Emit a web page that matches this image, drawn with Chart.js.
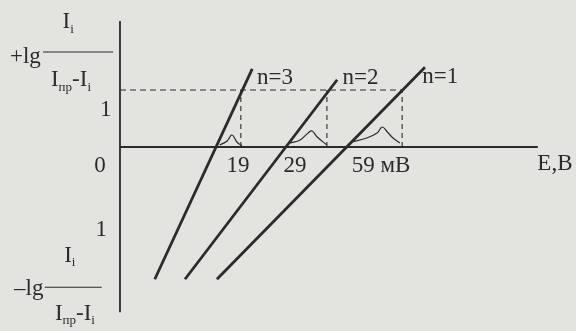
<!DOCTYPE html>
<html lang="ru">
<head>
  <meta charset="UTF-8">
  <title>lg(I/(Iпр-I)) от E</title>
  <script src="https://cdn.jsdelivr.net/npm/chart.js"></script>
  <style>
    body { margin: 0; background: #e3e3df; }
    #wrap { width: 576px; height: 331px; }
  </style>
</head>
<body>
<div id="wrap"><canvas id="chart" width="576" height="331"></canvas></div>
<script>
// прямые lg(I/(Iпр-I)) = f(E) для n = 3, 2, 1 (x, y в условных единицах)
var lineN3 = [[0.61, -2.32], [2.32, 1.37]];
var lineN2 = [[1.14, -2.32], [3.81, 1.18]];
var lineN1 = [[1.70, -2.32], [5.35, 1.40]];

// дифференциальные пики на оси E
var peak1 = [[1.75, 0.035], [1.88, 0.105], [1.965, 0.211], [2.05, 0.088], [2.14, 0.018]];
var peak2 = [[2.98, 0.07], [3.16, 0.123], [3.30, 0.246], [3.37, 0.28], [3.46, 0.175], [3.63, 0.035]];
var peak3 = [[4.07, 0.088], [4.33, 0.158], [4.51, 0.246], [4.60, 0.351], [4.69, 0.263], [4.79, 0.158], [4.91, 0.07]];

// уровень lg = 1 и проекции на ось E
var levelOne = 1;
var levelEnd = 4.95;
var dropX = [2.12, 3.63, 4.95];

// оси
var axisY = [[0, 2.21], [0, -2.9]];
var axisX = [[0, 0], [7.33, 0]];

var tickLabels = [
  { t: '0', x: -0.35, y: -0.34 },
  { t: '19', x: 2.07, y: -0.34 },
  { t: '29', x: 3.07, y: -0.34 },
  { t: '59 мВ', x: 4.58, y: -0.34 },
  { t: 'E,B', x: 7.63, y: -0.29 },
  { t: '1', x: -0.25, y: 0.65 },
  { t: '1', x: -0.33, y: -1.46 }
];
var seriesLabels = [
  { t: 'n=3', x: 2.72, y: 1.21 },
  { t: 'n=2', x: 4.22, y: 1.21 },
  { t: 'n=1', x: 5.62, y: 1.23 }
];

function pts(arr) { return arr.map(function (p) { return { x: p[0], y: p[1] }; }); }

var ink = '#2b2b2b';
var datasets = [];

function addLine(arr, w, dash, tension) {
  datasets.push({
    data: pts(arr), showLine: true, borderColor: ink, borderWidth: w,
    borderDash: dash || [], pointRadius: 0, tension: tension || 0, fill: false
  });
}

addLine(axisY, 1.8);
addLine(axisX, 1.8);
addLine([[0, levelOne], [levelEnd, levelOne]], 1.1, [6, 4]);
dropX.forEach(function (x) { addLine([[x, 0], [x, levelOne]], 1.1, [5, 4]); });
addLine(lineN3, 2.8);
addLine(lineN2, 2.8);
addLine(lineN1, 2.8);
addLine(peak1, 1.2, null, 0.4);
addLine(peak2, 1.2, null, 0.4);
addLine(peak3, 1.2, null, 0.4);

var serif = '"Liberation Serif", "DejaVu Serif", serif';
var big = '23px ' + serif;
var small = '13px ' + serif;

// I с нижним индексом; возвращает правый край
function drawSub(ctx, x0, y, main, sub) {
  ctx.font = big;
  ctx.fillText(main, x0, y);
  var w = ctx.measureText(main).width;
  ctx.font = small;
  ctx.fillText(sub, x0 + w, y + 7);
  return x0 + w + ctx.measureText(sub).width;
}

function subWidth(ctx, main, sub) {
  ctx.font = big;
  var w = ctx.measureText(main).width;
  ctx.font = small;
  return w + ctx.measureText(sub).width;
}

// подпись вида  ±lg  I_i / (I_пр - I_i)
function drawFraction(ctx, sx, sy, f) {
  ctx.textAlign = 'center';
  ctx.textBaseline = 'middle';
  ctx.font = big;
  ctx.fillText(f.sign + 'lg', sx(f.lg[0]), sy(f.lg[1]));
  ctx.textAlign = 'left';
  var wTop = subWidth(ctx, 'I', 'i');
  drawSub(ctx, sx(f.top[0]) - wTop / 2, sy(f.top[1]), 'I', 'i');

  ctx.beginPath();
  ctx.lineWidth = 1.1;
  ctx.moveTo(sx(f.bar[0]), sy(f.bar[2]));
  ctx.lineTo(sx(f.bar[1]), sy(f.bar[2]));
  ctx.stroke();

  ctx.font = big;
  var wDash = ctx.measureText('-').width;
  var wBot = subWidth(ctx, 'I', 'пр') + wDash + subWidth(ctx, 'I', 'i');
  var x = sx(f.bot[0]) - wBot / 2, y = sy(f.bot[1]);
  x = drawSub(ctx, x, y, 'I', 'пр');
  ctx.font = big;
  ctx.fillText('-', x, y);
  drawSub(ctx, x + wDash, y, 'I', 'i');
}

var fractions = [
  { sign: '+', lg: [-1.66, 1.58], top: [-0.91, 2.19], bar: [-1.35, -0.12, 1.667], bot: [-0.86, 1.17] },
  { sign: '–', lg: [-1.6, -2.49], top: [-0.88, -1.91], bar: [-1.32, -0.32, -2.46], bot: [-0.79, -2.93] }
];

var textPlugin = {
  id: 'texts',
  afterDatasetsDraw: function (chart) {
    var ctx = chart.ctx;
    var sx = function (v) { return chart.scales.x.getPixelForValue(v); };
    var sy = function (v) { return chart.scales.y.getPixelForValue(v); };
    ctx.save();
    ctx.fillStyle = ink;
    ctx.strokeStyle = ink;
    ctx.textAlign = 'center';
    ctx.textBaseline = 'middle';
    ctx.font = big;
    tickLabels.concat(seriesLabels).forEach(function (l) {
      ctx.fillText(l.t, sx(l.x), sy(l.y));
    });
    fractions.forEach(function (f) { drawFraction(ctx, sx, sy, f); });
    ctx.restore();
  }
};

new Chart(document.getElementById('chart'), {
  type: 'scatter',
  data: { datasets: datasets },
  options: {
    responsive: false,
    animation: false,
    layout: { padding: 0 },
    plugins: { legend: { display: false }, tooltip: { enabled: false } },
    scales: {
      x: { type: 'linear', display: false, min: -2.105, max: 8.0 },
      y: { type: 'linear', display: false, min: -3.228, max: 2.579 }
    }
  },
  plugins: [textPlugin]
});
</script>
</body>
</html>
